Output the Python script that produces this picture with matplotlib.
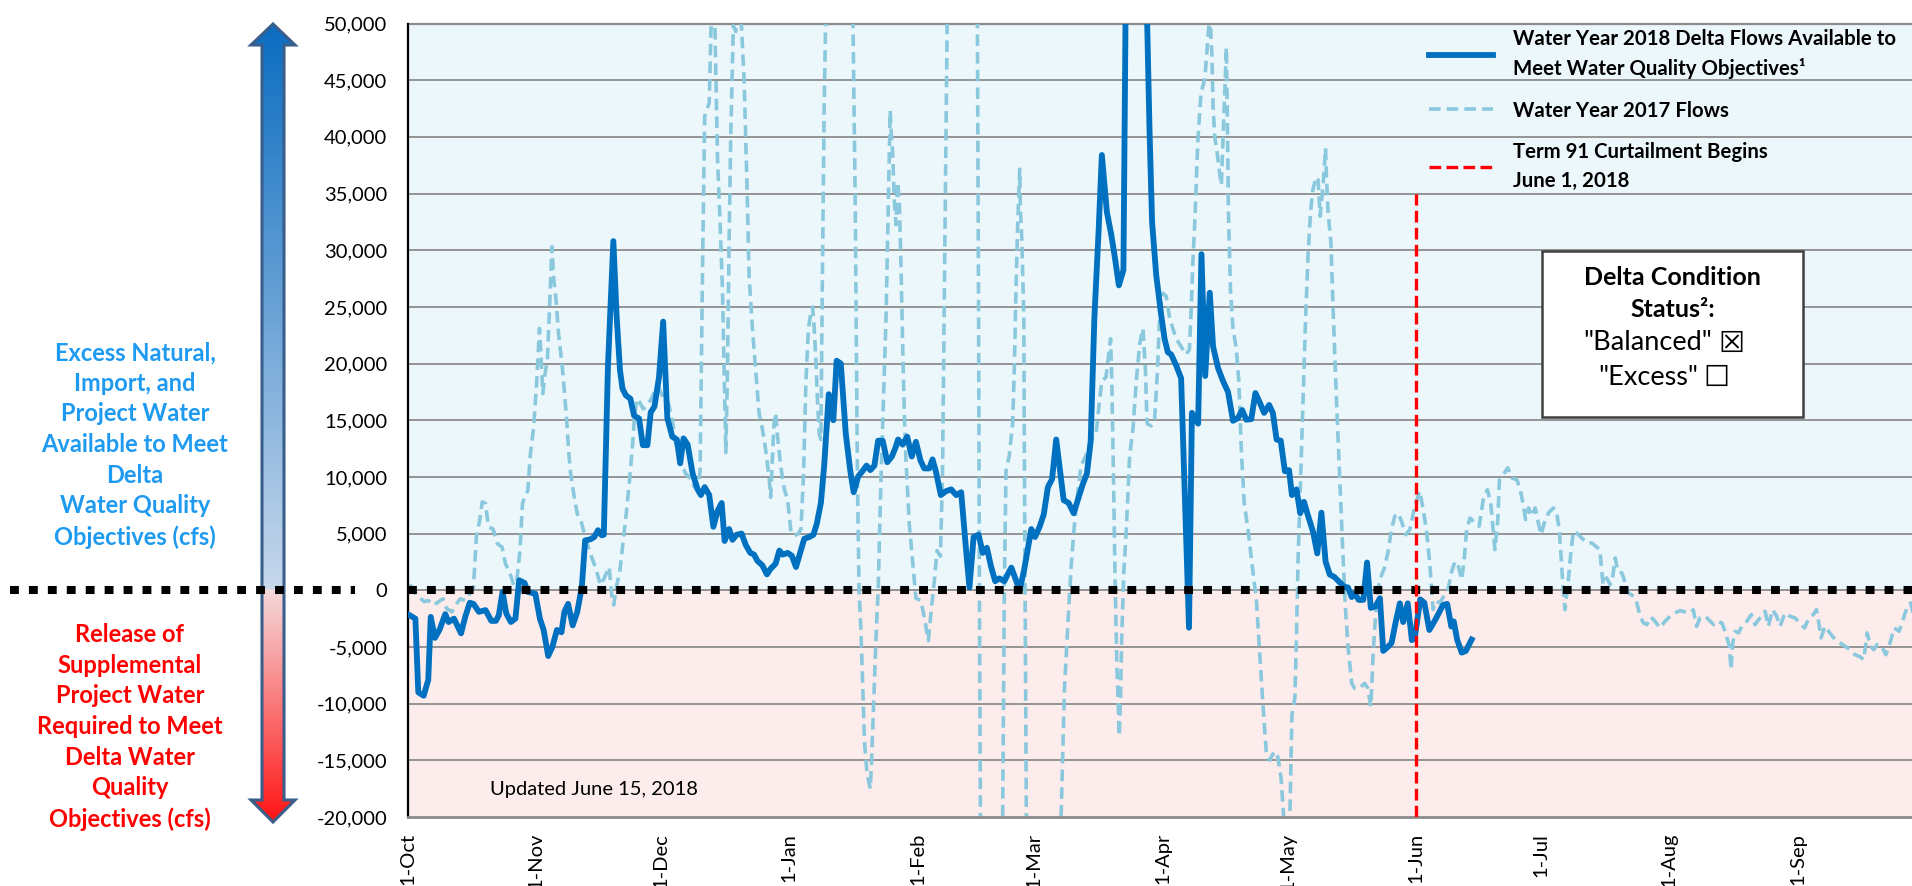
import matplotlib.pyplot as plt
import numpy as np
import pandas as pd
from matplotlib.patches import Polygon, Rectangle
from matplotlib.ticker import FixedLocator, FuncFormatter

plt.rcParams["font.family"] = ["Lato", "DejaVu Sans"]

# Days since 1 October of the water year, and Delta flow in cfs
days_2018 = [
    0.5, 1.9, 2.6, 3.9, 5.0, 5.6, 6.6, 7.7, 9.1, 9.9, 11.2, 12.9, 13.9, 15.0, 15.9,
    17.2, 18.8, 20.2, 21.3, 22.0, 22.9, 23.8, 24.9, 26.0, 26.9, 28.2, 29.0, 30.8,
    31.9, 32.8, 33.9, 34.9, 36.0, 37.1, 37.8, 38.7, 39.8, 40.9, 42.0, 42.8, 44.1,
    45.0, 45.9, 46.8, 47.3, 48.3, 49.6, 50.4, 51.2, 51.8, 52.6, 53.7, 54.6, 55.8,
    56.7, 57.8, 58.6, 59.5, 60.6, 61.6, 62.6, 63.8, 64.9, 65.7, 66.5, 67.5, 68.7,
    69.9, 70.7, 71.6, 72.7, 73.7, 74.7, 75.7, 76.4, 77.5, 78.3, 79.3, 80.5, 81.5,
    82.6, 83.5, 84.3, 85.5, 86.6, 87.5, 88.7, 89.6, 90.4, 91.6, 92.6, 93.6, 94.6,
    95.6, 96.8, 97.8, 98.6, 99.6, 100.4, 101.5, 102.2, 102.6, 103.4, 104.4, 105.6,
    106.7, 107.5, 108.6, 109.6, 110.6, 111.5, 112.5, 113.4, 114.5, 115.6, 116.7,
    117.6, 118.2, 119.3, 120.4, 121.5, 122.5, 123.6, 124.5, 125.7, 126.5, 127.3,
    128.5, 129.8, 131.0, 132.2, 133.4, 134.6, 135.4, 136.4, 137.6, 138.6, 139.6,
    140.6, 141.6, 142.6, 143.8, 144.6, 145.5, 146.5, 147.5, 148.6, 150.3, 151.2,
    152.3, 153.3, 154.3, 155.3, 156.3, 157.3, 158.1, 159.3, 160.5, 161.7, 162.7,
    163.7, 164.6, 165.5, 166.5, 167.3, 168.5, 169.6, 170.5, 171.4, 172.5, 173.5,
    177.5, 178.8, 179.4, 180.4, 181.5, 182.4, 183.2, 184.0, 185.2, 186.4, 188.3,
    189.0, 189.7, 190.5, 191.3, 192.2, 193.3, 194.1, 195.3, 196.5, 197.7, 198.9,
    200.1, 201.1, 202.1, 203.3, 204.3, 205.3, 206.4, 207.6, 208.5, 209.4, 210.4,
    211.4, 212.4, 213.1, 214.2, 215.1, 216.0, 217.0, 218.2, 219.2, 220.2, 221.2,
    222.2, 223.4, 224.6, 225.7, 226.6, 227.5, 228.2, 229.2, 230.3, 231.2, 232.1,
    233.3, 234.3, 235.1, 236.2, 237.1, 238.1, 239.1, 239.9, 241.0, 242.0, 242.7,
    244.0, 245.0, 246.2, 247.5, 249.5, 250.5, 251.5, 252.1, 252.9, 254.0, 255.0,
    256.4,
]
flow_2018 = [
    -2200, -2500, -9000, -9300, -7900, -2350, -4200, -3500, -2100, -2800, -2500,
    -3800, -2350, -1100, -1200, -1900, -1750, -2700, -2700, -2200, -150, -2050,
    -2800, -2500, 880, 650, -150, -300, -2500, -3500, -5800, -5000, -3500, -3700,
    -1900, -1200, -3100, -1900, 300, 4400, 4500, 4700, 5300, 4850, 4900, 19800,
    30800, 24100, 19400, 17800, 17200, 16900, 15400, 15150, 12800, 12800, 15700,
    16200, 18800, 23700, 15200, 13550, 13300, 11200, 13400, 12850, 10300, 8900,
    8400, 9100, 8400, 5600, 7000, 7700, 4350, 5400, 4450, 4900, 5000, 4000, 3300,
    3150, 2600, 2200, 1400, 1900, 2350, 3500, 3150, 3300, 3050, 2050, 3300, 4550,
    4700, 4900, 5850, 7700, 11000, 17300, 15900, 15000, 20250, 20000, 13800, 10500,
    8650, 10050, 10500, 11000, 10600, 11000, 13200, 13200, 11300, 11800, 12600,
    13300, 12850, 13550, 11800, 13100, 11450, 10750, 10750, 11550, 10500, 8400,
    8750, 8900, 8400, 8650, 3500, 250, 4700, 4900, 3300, 3750, 2100, 800, 1050,
    800, 1400, 2000, 1000, 0, 1850, 5400, 4700, 5600, 6700, 9100, 9800, 13300,
    10300, 7950, 7700, 6800, 8200, 9350, 10300, 13100, 24050, 31550, 38400, 33400,
    31300, 29200, 26900, 28250, 72000, 62000, 40400, 32500, 27800, 24550, 22200,
    21000, 20800, 19850, 18700, -3300, 15650, 15200, 14700, 29650, 18900, 26250,
    21500, 19600, 18450, 17500, 14950, 15200, 15900, 15050, 15100, 17400, 16600,
    15650, 16350, 15650, 13300, 13200, 10500, 10600, 8400, 8900, 6800, 7800, 6550,
    5150, 3250, 6850, 2550, 1400, 1150, 700, 300, 250, -600, -250, -850, -850, 2450,
    -1550, -1400, -700, -5350, -5000, -4650, -2800, -1150, -2800, -1150, -4400,
    -4200, -800, -1100, -3500, -2700, -1300, -1200, -3200, -2750, -4350, -5500,
    -5350, -4350,
]

days_2017 = [
    0.5, 1.0, 2.0, 4.0, 5.0, 6.4, 7.5, 8.6, 9.4, 10.7, 11.6, 12.7, 13.9, 15.0, 15.9,
    16.6, 17.4, 18.0, 18.8, 19.5, 20.6, 21.7, 22.8, 23.6, 24.7, 25.6, 26.3, 27.1,
    27.7, 28.5, 29.0, 29.6, 30.4, 31.1, 31.4, 31.8, 32.1, 32.6, 33.0, 33.7, 34.1,
    34.6, 34.8, 35.2, 35.8, 36.4, 37.3, 38.3, 38.8, 39.3, 40.3, 40.9, 41.9, 42.8,
    44.1, 45.4, 46.5, 47.3, 48.6, 49.3, 49.7, 50.3, 51.1, 51.8, 52.7, 53.5, 54.3,
    54.7, 55.3, 55.9, 56.8, 57.7, 58.6, 59.5, 60.5, 61.8, 62.9, 63.8, 64.6, 65.4,
    66.2, 67.0, 68.3, 69.1, 69.9, 70.5, 71.1, 71.6, 72.7, 73.1, 73.5, 74.0, 74.7,
    75.3, 75.9, 76.3, 76.7, 77.1, 77.5, 77.9, 78.5, 79.1, 79.7, 80.3, 81.1, 81.8,
    82.3, 83.1, 83.9, 84.7, 85.5, 86.3, 87.1, 87.5, 87.9, 88.3, 88.7, 89.1, 89.9,
    90.8, 91.6, 92.4, 93.2, 94.2, 94.8, 95.4, 96.0, 96.6, 97.2, 97.6, 98.0, 98.4,
    98.8, 99.2, 99.6, 100.0, 100.4, 101.2, 107.0, 107.9, 108.2, 108.4, 108.8, 109.3,
    109.7, 110.1, 110.7, 111.5, 111.8, 112.3, 112.9, 113.4, 114.1, 114.7, 115.3,
    115.8, 116.3, 116.6, 116.9, 117.3, 117.7, 118.1, 118.5, 118.9, 119.3, 119.7,
    120.1, 120.5, 120.9, 121.7, 122.5, 123.7, 124.5, 125.5, 126.1, 126.9, 127.6,
    128.4, 128.9, 129.3, 129.7, 130.3, 137.2, 137.6, 137.8, 138.1, 141.0, 143.3,
    143.8, 144.2, 145.0, 145.8, 146.2, 146.6, 147.0, 147.5, 147.7, 148.0, 148.5,
    148.6, 148.8, 149.2, 151.3, 153.4, 155.5, 157.4, 158.3, 159.1, 159.9, 160.7,
    161.5, 162.3, 163.5, 164.7, 165.9, 166.7, 167.3, 168.3, 169.1, 169.4, 169.7,
    170.1, 170.5, 170.9, 171.3, 171.5, 171.8, 172.1, 172.6, 173.2, 174.0, 174.8,
    175.6, 176.4, 177.2, 177.8, 178.2, 179.2, 180.0, 180.7, 181.2, 182.0, 182.8,
    183.6, 184.4, 185.2, 186.4, 187.6, 188.4, 188.8, 189.2, 189.8, 190.4, 191.2,
    192.1, 192.7, 193.1, 193.5, 193.8, 194.1, 194.5, 195.1, 195.7, 196.1, 196.5,
    196.9, 197.3, 197.5, 197.8, 198.3, 198.9, 199.7, 200.3, 200.9, 201.6, 202.5,
    203.7, 204.5, 205.3, 206.1, 206.9, 207.7, 208.9, 209.7, 210.5, 211.1, 211.8,
    212.6, 213.1, 213.8, 214.2, 214.6, 215.2, 215.8, 216.4, 217.0, 217.6, 218.1,
    218.9, 219.4, 219.9, 220.6, 221.2, 221.4, 221.8, 222.5, 223.0, 223.8, 224.6,
    225.4, 226.0, 226.6, 227.5, 228.2, 229.4, 230.6, 231.4, 232.1, 232.7, 233.5,
    234.3, 235.5, 236.3, 237.1, 237.9, 238.7, 239.5, 240.5, 241.5, 242.7, 243.9,
    244.8, 245.5, 246.3, 247.1, 247.9, 248.7, 250.7, 251.6, 252.4, 253.2, 254.0,
    254.6, 255.2, 256.0, 257.2, 258.2, 259.2, 260.2, 261.0, 262.0, 262.7, 263.1,
    264.0, 265.1, 266.1, 267.3, 268.1, 268.9, 269.4, 270.1, 270.9, 271.7, 272.3,
    273.1, 273.9, 274.9, 276.1, 276.9, 277.5, 278.0, 278.5, 278.9, 279.7, 280.3,
    280.9, 281.7, 282.9, 284.1, 285.3, 286.3, 287.3, 287.7, 288.1, 288.9, 289.8,
    290.3, 291.0, 291.6, 292.6, 293.4, 294.2, 295.4, 296.2, 297.0, 297.8, 298.6,
    299.6, 300.6, 301.8, 303.0, 304.2, 305.4, 306.6, 307.8, 309.0, 309.8, 310.6,
    311.4, 312.7, 313.5, 314.7, 315.5, 316.7, 317.6, 318.5, 318.9, 319.3, 319.9,
    320.7, 321.5, 322.7, 323.8, 324.7, 325.5, 326.3, 327.1, 327.9, 328.9, 329.9,
    330.7, 331.9, 333.1, 334.3, 335.5, 336.6, 337.5, 338.7, 339.5, 340.1, 340.6,
    341.5, 342.7, 344.0, 345.2, 346.4, 347.6, 348.7, 349.8, 350.9, 351.7, 352.5,
    353.3, 354.1, 355.2, 356.2, 357.2, 358.2, 359.4, 360.6, 361.4, 362.2, 363.1,
    364.0,
]
flow_2017 = [
    500, 300, -300, -1000, -900, -1300, -1000, -750, -1600, -1900, -1300, -750,
    -900, -300, 300, 4700, 6200, 7800, 7650, 5600, 5400, 4100, 3800, 2350, 1500,
    450, 750, 3500, 7650, 8500, 8800, 12000, 14400, 18200, 20300, 23100, 21200,
    17350, 18800, 20300, 23800, 28500, 30300, 27600, 25600, 22600, 19700, 15300,
    12400, 10300, 7950, 6750, 6000, 4700, 3200, 1900, 450, 1000, 2050, -900, -1300,
    300, 1500, 3800, 6750, 9700, 13200, 15300, 16900, 16600, 16000, 16300, 16800,
    17500, 17950, 16800, 16500, 15000, 13000, 11900, 11000, 10300, 9800, 9100, 8900,
    10500, 28700, 41800, 43000, 49300, 51500, 51000, 38100, 32500, 26400, 19400,
    12150, 19400, 31100, 40400, 49800, 49300, 50500, 51000, 45100, 35700, 27800,
    23100, 19400, 15650, 14250, 12400, 10050, 8200, 11450, 14700, 15650, 13800,
    11000, 8900, 7950, 5150, 4800, 5000, 5400, 10050, 18450, 23100, 24500, 25000,
    23100, 20300, 16600, 13800, 13300, 28700, 42750, 60000, 60000, 33400, 19400,
    10050, 0, -4000, -8650, -13300, -16100, -17500, -15200, -10000, -4000, 0, 10050,
    17050, 24100, 33400, 42300, 40000, 38550, 34350, 32250, 36000, 34350, 28700,
    21700, 15650, 11450, 8650, 5850, 2550, -700, -900, -2350, -4450, -2100, 700,
    3500, 3000, 10050, 24100, 38100, 60000, 60000, 24100, 0, -25000, -40000, -25000,
    0, 10500, 11900, 14700, 19400, 26400, 32000, 37150, 33400, 31100, 24100, 14700,
    0, -26000, -30000, -20300, -28000, -21000, -8650, -3050, 2100, 5850, 8650, 11000,
    11900, 13300, 13800, 16600, 18450, 18800, 21250, 22200, 18450, 10050, 700, -6300,
    -10500, -12850, -9550, -4000, 1650, 5400, 11900, 14250, 18450, 21700, 23100,
    19400, 14700, 14500, 15000, 19400, 24100, 26200, 25950, 24100, 23100, 22200,
    21500, 20800, 21250, 24550, 28700, 33400, 39500, 43900, 45100, 47900, 50000,
    49500, 47400, 42750, 40000, 38550, 36700, 35750, 40000, 43700, 47900, 42750,
    33400, 26400, 23100, 21250, 18450, 12400, 7700, 5400, 1650, -700, -5350, -10000,
    -14200, -15000, -14200, -14700, -16600, -20000, -24000, -20000, -11000, -9550,
    -4000, 3000, 10050, 17050, 24100, 29700, 33400, 35250, 36450, 36200, 33000,
    35700, 39000, 36700, 33400, 30600, 25000, 17050, 10050, 3000, -1650, -4900,
    -8200, -8650, -8650, -8200, -8650, -10250, -5350, -700, 950, 2100, 3500, 5400,
    6550, 6800, 6100, 4900, 5350, 7400, 8750, 6970, 5350, 2400, -1700, -970, -1120,
    60, 1680, 2560, 2120, 940, 2700, 5350, 6380, 5940, 5650, 8000, 8880, 7700, 3590,
    6230, 9760, 10200, 10800, 9910, 9760, 8880, 7400, 6230, 7260, 6530, 7260, 6230,
    4910, 5940, 6820, 7260, 6820, 5350, 2700, -240, -1710, 940, 3290, 5200, 5060,
    4620, 4180, 4180, 3880, 3590, 1820, 500, 1090, 500, 940, 2850, 1680, 1530, 650,
    -240, -530, -1120, -2290, -2880, -3030, -2350, -2740, -3320, -2740, -2290,
    -2000, -1790, -1910, -2000, -1710, -3180, -2440, -2290, -2590, -3030, -2740,
    -2880, -3760, -4940, -7000, -4650, -3620, -3760, -3180, -2740, -2150, -3030,
    -2590, -2290, -1850, -3180, -1710, -2290, -3180, -2000, -2290, -2440, -2880,
    -3320, -2590, -2150, -1710, -3030, -4200, -3180, -3760, -4350, -4650, -4940,
    -5240, -5680, -5820, -6120, -3760, -4940, -5240, -4790, -4940, -5680, -4650,
    -3320, -3620, -2290, -1410, -1120, -2590, -1500,
]

water_year_start = pd.Timestamp("2017-10-01")
curtailment_date = pd.Timestamp("2018-06-01")
curtailment_top = 35000
month_starts = pd.date_range(water_year_start, periods=12, freq="MS")
month_offsets = (month_starts - water_year_start).days
month_labels = [f"1-{m:%b}" for m in month_starts]
curtailment_day = (curtailment_date - water_year_start).days

blue_2018 = "#0070C0"
blue_2017 = "#8AC8DD"
grid_gray = "#8C8C8C"
excess_bg = "#ECF7FC"
release_bg = "#FDECEC"

W, H = 1912, 886
fig = plt.figure(figsize=(W / 100, H / 100), dpi=100)

# pixel-space layer for the side annotation and arrow
ov = fig.add_axes([0, 0, 1, 1], zorder=0)
ov.set_xlim(0, W)
ov.set_ylim(H, 0)
ov.axis("off")

ax_left, ax_top, ax_bottom = 407.5, 23.5, 817
ax = fig.add_axes(
    [ax_left / W, 1 - ax_bottom / H, (W - ax_left) / W, (ax_bottom - ax_top) / H],
    zorder=1,
)
ax.set_xlim(0, 362.5)
ax.set_ylim(-20000, 50000)

ax.axhspan(0, 50000, color=excess_bg, zorder=0, lw=0)
ax.axhspan(-20000, 0, color=release_bg, zorder=0, lw=0)
for level in range(-15000, 50001, 5000):
    ax.axhline(level, color=grid_gray, lw=1.3, zorder=1)

ax.plot(days_2017, flow_2017, color=blue_2017, lw=2.6, ls=(0, (3.2, 1.7)),
        zorder=2, label="Water Year 2017 Flows")
ax.plot(days_2018, flow_2018, color=blue_2018, lw=4.2, zorder=3,
        solid_joinstyle="round",
        label="Water Year 2018 Delta Flows Available to\nMeet Water Quality Objectives¹")
ax.axhline(0, color="black", lw=5.8, ls=(0, (1.1, 1.25)), zorder=4)
ax.vlines(curtailment_day, -20000, curtailment_top, color="red", lw=2.4,
          ls=(0, (3.5, 1.6)), zorder=5,
          label="Term 91 Curtailment Begins\nJune 1, 2018")

for side in ["top", "right"]:
    ax.spines[side].set_visible(False)
ax.spines["left"].set_color("black")
ax.spines["left"].set_linewidth(1.6)
ax.spines["bottom"].set_color("#8A8A8A")
ax.spines["bottom"].set_linewidth(2.0)
ax.axhline(50000, color=grid_gray, lw=1.6, zorder=1, clip_on=False)

ax.yaxis.set_major_locator(FixedLocator(range(-20000, 50001, 5000)))
ax.yaxis.set_major_formatter(FuncFormatter(lambda v, _: f"{v:,.0f}"))
ax.set_xticks(month_offsets)
ax.set_xticklabels(month_labels, rotation=90, va="top", ha="center")
ax.tick_params(axis="y", length=0, pad=14.5, labelsize=14.5)
ax.tick_params(axis="x", length=0, pad=11.5, labelsize=14.5)

handles, labels = ax.get_legend_handles_labels()
order = [1, 0, 2]
leg = ax.legend(
    [handles[i] for i in order], [labels[i] for i in order],
    loc="upper left",
    bbox_to_anchor=((1429 - ax_left) / (W - ax_left), 0.9934),
    frameon=False, borderpad=0.0, borderaxespad=0.0, handlelength=3.15,
    handletextpad=0.95, labelspacing=1.05,
    prop={"weight": "bold", "size": 14.7},
)
for t in leg.get_texts():
    t.set_linespacing(1.55)

ax.text(0.055, 0.035, "Updated June 15, 2018", transform=ax.transAxes,
        fontsize=14.5, va="center", ha="left")

# Delta condition status box
ax.add_patch(Rectangle((0.754, 0.504), 0.1735, 0.2093, transform=ax.transAxes,
                       facecolor="white", edgecolor="#404040", lw=1.8, zorder=6))
box_x = 0.8408
ax.text(box_x, 0.6793, "Delta Condition", transform=ax.transAxes, ha="center",
        va="center", fontsize=18, weight="bold", zorder=7)
ax.text(box_x, 0.639, "Status²:", transform=ax.transAxes, ha="center",
        va="center", fontsize=18, weight="bold", zorder=7)
for y, word, mark in [(0.5974, "\"Balanced\"", "☒"), (0.5545, "\"Excess\"", "☐")]:
    word_txt = ax.text(0.8245, y, word, transform=ax.transAxes, ha="center",
                       va="center", fontsize=19.5, zorder=7)
    ax.annotate(mark, xy=(1, 0.45), xycoords=word_txt, xytext=(4, 0),
                textcoords="offset points", ha="left", va="center",
                fontsize=21, weight="bold", family="DejaVu Sans", zorder=7)

# gradient double arrow beside the value axis
cx, shaft, head = 273, 11, 22
tip_top, base_top, base_bot, tip_bot, zero_y = 24, 45, 800, 822, 590
arrow_xy = [
    (cx, tip_top), (cx + head, base_top), (cx + shaft, base_top),
    (cx + shaft, base_bot), (cx + head, base_bot), (cx, tip_bot),
    (cx - head, base_bot), (cx - shaft, base_bot), (cx - shaft, base_top),
    (cx - head, base_top),
]
arrow = Polygon(arrow_xy, closed=True, facecolor="none", edgecolor="#3A5E8C",
                lw=2.2, zorder=3)
ov.add_patch(arrow)
rows = np.arange(tip_top, tip_bot + 1)
top_c, mid_c = np.array([10, 108, 192]), np.array([200, 216, 236])
pink_c, red_c = np.array([244, 218, 220]), np.array([255, 20, 20])
grad = np.zeros((len(rows), 2, 3))
for i, y in enumerate(rows):
    if y < zero_y:
        t = (y - tip_top) / (zero_y - tip_top)
        c = top_c * (1 - t) + mid_c * t
    else:
        t = (y - zero_y) / (tip_bot - zero_y)
        c = pink_c * (1 - t) + red_c * t
    grad[i, :, :] = c / 255
im = ov.imshow(grad, extent=(cx - head, cx + head, tip_bot, tip_top),
               aspect="auto", origin="upper", zorder=2, interpolation="bilinear")
im.set_clip_path(arrow)
ov.set_xlim(0, W)
ov.set_ylim(H, 0)

ov.plot([10, 355], [zero_y, zero_y], color="black", lw=5.8, ls=(0, (1.1, 1.25)),
        zorder=4)

ov.text(135, 445, "Excess Natural,\nImport, and\nProject Water\nAvailable to Meet\n"
        "Delta\nWater Quality\nObjectives (cfs)", color="#1E9AF0", fontsize=17,
        weight="bold", ha="center", va="center", linespacing=1.4)
ov.text(130, 727, "Release of\nSupplemental\nProject Water\nRequired to Meet\n"
        "Delta Water\nQuality\nObjectives (cfs)", color="#FF0000", fontsize=17,
        weight="bold", ha="center", va="center", linespacing=1.4)

fig.savefig("out.png", dpi=100)
